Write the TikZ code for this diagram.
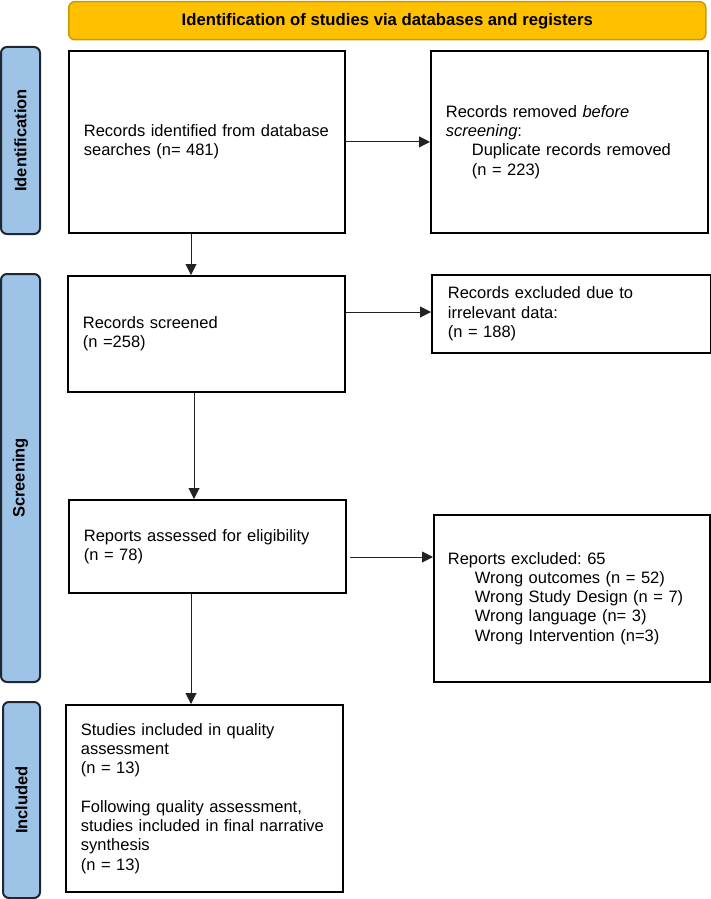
\documentclass[tikz,border=0pt]{standalone}
\usepackage{fontspec}
\setmainfont{Liberation Sans}
\usetikzlibrary{arrows.meta,calc}
\frenchspacing
\definecolor{hdrfill}{HTML}{FFC000}
\definecolor{hdrdraw}{HTML}{C89B00}
\definecolor{barfill}{HTML}{9DC3E6}
\definecolor{bardraw}{HTML}{1E2733}
\definecolor{arrcol}{HTML}{222222}
\tikzset{
  boxnode/.style={draw=black, line width=1.8pt, fill=white, anchor=north west,
    align=left, inner xsep=15pt, inner ysep=0pt,
    font=\fontsize{16.5}{19.3}\selectfont},
  barnode/.style={draw=bardraw, line width=2pt, fill=barfill, rounded corners=6pt,
    rotate=90, font=\bfseries\fontsize{16.5}{19}\selectfont, inner sep=0pt},
  hdrnode/.style={draw=hdrdraw, line width=1.5pt, fill=hdrfill, rounded corners=6pt,
    anchor=north west, font=\bfseries\fontsize{16.7}{19}\selectfont, inner sep=0pt},
  arr/.style={draw=arrcol, line width=1pt, -{Triangle[length=11pt,width=11pt]}}
}
\begin{document}
\begin{tikzpicture}[x=1pt,y=-1pt]
\useasboundingbox (0,0) rectangle (711,899);
% header
\node[hdrnode, minimum width=637pt, minimum height=38pt] (hdr) at (68,1)
  {Identification of studies via databases and registers};
% side bars
\node[barnode, minimum width=187pt, minimum height=39pt] (barI) at (20.5,140.5) {Identification};
\node[barnode, minimum width=408pt, minimum height=39pt] (barS) at (20.5,478) {Screening};
\node[barnode, minimum width=196pt, minimum height=37pt] (barN) at (21.5,800) {Included};
% boxes
\node[boxnode, text width=246pt, minimum height=182pt] (b1) at (68,50)
  {Records identified from database\\searches (n= 481)};
\node[boxnode, text width=247pt, minimum height=182pt] (b2) at (430,50)
  {Records removed \textit{before}\\\textit{screening}:\\\hspace*{26pt}Duplicate records removed\\\hspace*{26pt}(n = 223)\\[6pt]};
\node[boxnode, text width=247pt, minimum height=116pt] (b3) at (67,275)
  {Records screened\\(n =258)};
\node[boxnode, text width=247pt, minimum height=78pt, inner xsep=16pt] (b4) at (431,274)
  {Records excluded due to\\irrelevant data:\\(n = 188)};
\node[boxnode, text width=248pt, minimum height=167pt, inner xsep=14pt] (b6) at (433,514)
  {Reports excluded: 65\\\hspace*{27pt}Wrong outcomes (n = 52)\\\hspace*{27pt}Wrong Study Design (n = 7)\\\hspace*{27pt}Wrong language (n= 3)\\\hspace*{27pt}Wrong Intervention (n=3)};
\node[boxnode, text width=247pt, minimum height=93pt] (b5) at (68,499)
  {Reports assessed for eligibility\\(n = 78)};
\node[boxnode, text width=247pt, minimum height=187pt] (b7) at (65,704)
  {Studies included in quality\\assessment\\(n = 13)\\[19.3pt]Following quality assessment,\\studies included in final narrative\\synthesis\\(n = 13)};
% connector guides
\coordinate (v1) at (191,0);
\coordinate (v2) at (194,0);
\coordinate (v3) at (191,0);
\coordinate (h2) at (0,312);
\coordinate (h3) at (0,557);
% connectors
\draw[arr] (b1.east) -- (b2.west);
\draw[arr] (v1 |- b1.south) -- (v1 |- b3.north);
\draw[arr] (h2 -| b3.east) -- (h2 -| b4.west);
\draw[arr] (v2 |- b3.south) -- (v2 |- b5.north);
\draw[arr] ([xshift=3pt]h3 -| b5.east) -- (h3 -| b6.west);
\draw[arr] (v3 |- b5.south) -- (v3 |- b7.north);
\end{tikzpicture}
\end{document}
